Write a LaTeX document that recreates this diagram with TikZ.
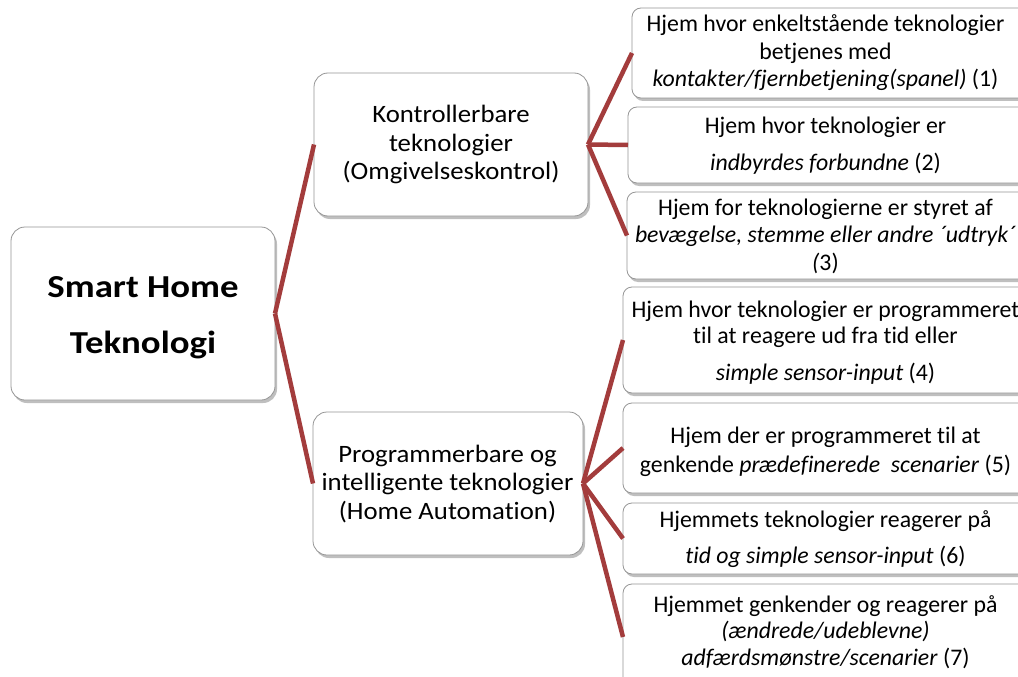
\documentclass[tikz,border=0pt]{standalone}
\usepackage{graphicx}
\usepackage{fontspec}
\setmainfont{Carlito}[Ligatures={NoCommon,NoRare,NoContextual}]
\usetikzlibrary{shadows}
\definecolor{conn}{RGB}{163,60,60}
\definecolor{bord}{RGB}{150,150,150}
\tikzset{
  boxbase/.style={draw=bord, line width=0.8pt, fill=white, inner sep=0pt, outer sep=0pt,
    drop shadow={shadow xshift=2pt, shadow yshift=-3pt, opacity=0.45, fill=black!55}},
  bigbox/.style={boxbase, rounded corners=14pt},
  smallbox/.style={boxbase, rounded corners=9pt},
  txt/.style={anchor=base, inner sep=0pt},
  conline/.style={draw=conn, line width=4.5pt},
  rfont/.style={font=\fontsize{23.8}{27.5}\selectfont}
}
\begin{document}
\begin{tikzpicture}[x=1pt,y=-1pt]
\useasboundingbox (0,0) rectangle (1018,677);
\clip (0,0) rectangle (1018,677);
\fill[white] (0,0) rectangle (1018,677);
% boxes
\node[bigbox, minimum width=264pt, minimum height=173pt] (root) at (143,313.5) {};
\node[bigbox, minimum width=274pt, minimum height=143pt] (m1) at (451,144.5) {};
\node[bigbox, minimum width=270pt, minimum height=143pt] (m2) at (448,483.5) {};
\node[smallbox, minimum width=398pt, minimum height=90pt] (b1) at (831,53) {};
\node[smallbox, minimum width=402pt, minimum height=76pt] (b2) at (829,145) {};
\node[smallbox, minimum width=403pt, minimum height=87pt] (b3) at (828.5,235.5) {};
\node[smallbox, minimum width=407pt, minimum height=106pt] (b4) at (826.5,340) {};
\node[smallbox, minimum width=407pt, minimum height=90pt] (b5) at (826.5,448) {};
\node[smallbox, minimum width=407pt, minimum height=71pt] (b6) at (826.5,538.5) {};
\node[smallbox, minimum width=407pt, minimum height=106pt] (b7) at (826.5,637) {};
% connectors
\draw[conline] (root.east) -- (m1.west);
\draw[conline] (root.east) -- (m2.west);
\draw[conline] (m1.east) -- (b1.west);
\draw[conline] (m1.east) -- (b2.west);
\draw[conline] (m1.east) -- (b3.west);
\draw[conline] (m2.east) -- (b4.west);
\draw[conline] (m2.east) -- (b5.west);
\draw[conline] (m2.east) -- (b6.west);
\draw[conline] (m2.east) -- (b7.west);
% texts
\node[txt, font=\bfseries\fontsize{32}{56}\selectfont] (roott) at (143,297)
  {\scalebox{1.15}[1]{\parbox[t]{240pt}{\centering Smart Home\\Teknologi}}};
\node[txt, font=\fontsize{25}{29}\selectfont] (m1t) at (451,122)
  {\scalebox{1.07}[1]{\parbox[t]{250pt}{\centering Kontrollerbare\\teknologier\\(Omgivelseskontrol)}}};
\node[txt, font=\fontsize{25}{28.5}\selectfont] (m2t) at (447.5,462)
  {\scalebox{1.07}[1]{\parbox[t]{250pt}{\centering Programmerbare og\\intelligente teknologier\\(Home Automation)}}};
\node[txt, rfont] (b1t) at (825.5,32)
  {\parbox[t]{440pt}{\centering Hjem hvor enkeltstående teknologier\\betjenes med\\\textit{kontakter/fjernbetjening(spanel)} (1)}};
\node[txt, rfont] (b2t) at (825.5,133)
  {\parbox[t]{440pt}{\centering Hjem hvor teknologier er\\[9.5pt]\textit{indbyrdes forbundne} (2)}};
\node[txt, rfont] (b3t) at (825.5,215)
  {\parbox[t]{440pt}{\centering Hjem for teknologierne er styret af\\\textit{bevægelse, stemme eller andre ´udtryk´}\\\textit{(}3)}};
\node[txt, font=\fontsize{23.8}{26}\selectfont] (b4t) at (825.5,317)
  {\parbox[t]{440pt}{\centering Hjem hvor teknologier er programmeret\\til at reagere ud fra tid eller\\[11pt]\textit{simple sensor-input} (4)}};
\node[txt, font=\fontsize{23.8}{29}\selectfont] (b5t) at (825.5,443)
  {\parbox[t]{440pt}{\centering Hjem der er programmeret til at\\genkende \textit{prædefinerede\ \ scenarier} (5)}};
\node[txt, font=\fontsize{23.8}{36}\selectfont] (b6t) at (825.5,527)
  {\parbox[t]{440pt}{\centering Hjemmets teknologier reagerer på\\\textit{tid og simple sensor-input} (6)}};
\node[txt, font=\fontsize{23.8}{26.5}\selectfont] (b7t) at (825.5,612)
  {\parbox[t]{440pt}{\centering Hjemmet genkender og reagerer på\\\textit{(ændrede/udeblevne)}\\\textit{adfærdsmønstre/scenarier} (7)}};
\end{tikzpicture}
\end{document}
